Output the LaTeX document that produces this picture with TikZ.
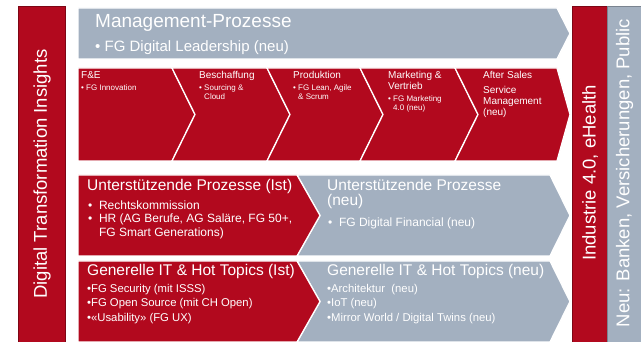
\documentclass[tikz,border=0pt]{standalone}
\usepackage{fontspec}
\setmainfont{Liberation Sans}
\definecolor{fgred}{RGB}{178,9,30}
\definecolor{fggray}{RGB}{163,176,192}

\begin{document}
\begin{tikzpicture}[x=1pt,y=-1pt,
  redshape/.style={fill=fgred,draw=white,line width=1.3pt,line join=miter},
  grayshape/.style={fill=fggray,draw=white,line width=1.3pt,line join=miter},
  redbar/.style={fill=fgred,draw=fgred!70!black,line width=0.6pt},
  graybar/.style={fill=fggray,draw=fggray!75!black,line width=0.6pt},
  lbl/.style={anchor=north west,inner sep=0pt,text=white,align=left},
  barlbl/.style={inner sep=0pt,text=white,rotate=90,font=\fontsize{18.5}{20}\selectfont},
  bigfont/.style={font=\fontsize{15.5}{15}\selectfont},
  stepfont/.style={font=\fontsize{10}{10.8}\selectfont},
  tinyfont/.style={font=\fontsize{8}{9}\selectfont}]
\useasboundingbox (0,0) rectangle (641,342);

% Side bars
\fill[white] (0,0) rectangle (641,342);
\draw[redbar] (18,6) rectangle (65,342);
\draw[redbar] (572,6) rectangle (607,342);
\draw[graybar] (607,6) rectangle (641,342);

% Management arrow
\draw[grayshape] (78,8) -- (557,8) -- (570,33.5) -- (557,59) -- (78,59) -- cycle;

% Value chain
\draw[redshape] (78,68) -- (172,68) -- (195,114.5) -- (172,161) -- (78,161) -- cycle;
\draw[redshape] (172,68) -- (267,68) -- (290,114.5) -- (267,161) -- (172,161) -- (195,114.5) -- cycle;
\draw[redshape] (267,68) -- (360,68) -- (383,114.5) -- (360,161) -- (267,161) -- (290,114.5) -- cycle;
\draw[redshape] (360,68) -- (455,68) -- (478,114.5) -- (455,161) -- (360,161) -- (383,114.5) -- cycle;
\draw[redshape] (455,68) -- (557,68) -- (570,114.5) -- (557,161) -- (455,161) -- (478,114.5) -- cycle;

% Support and IT rows
\draw[grayshape] (297,175) -- (550,175) -- (570,215.5) -- (550,256) -- (297,256) -- (320,215.5) -- cycle;
\draw[redshape] (78,175) -- (297,175) -- (320,215.5) -- (297,256) -- (78,256) -- cycle;
\draw[grayshape] (297,261) -- (550,261) -- (570,301.5) -- (550,342) -- (297,342) -- (320,301.5) -- cycle;
\draw[redshape] (78,261) -- (297,261) -- (320,301.5) -- (297,342) -- (78,342) -- cycle;

% Bar labels
\node[barlbl] (dti) at (42,174) {Digital Transformation Insights};
\node[barlbl] (industrie) at (590,173) {Industrie 4.0, eHealth};
\node[barlbl] (neu) at (624.5,173) {Neu: Banken, Versicherungen, Public};

% Management labels
\node[lbl,font=\fontsize{19}{20}\selectfont] (mgmt) at (95,14) {Management-Prozesse};
\node[lbl,font=\fontsize{15}{16}\selectfont] (mgmtitem) at (95,40.5) {• FG Digital Leadership (neu)};

% Value chain labels
\node[lbl,stepfont] (fe) at (81,71) {F\&E};
\node[lbl,tinyfont] (feitem) at (81,85) {• FG Innovation};
\node[lbl,stepfont] (besch) at (199,71) {Beschaffung};
\node[lbl,tinyfont] (beschitem) at (199,85) {• Sourcing \&\\\hphantom{• }Cloud};
\node[lbl,stepfont] (prod) at (293,71) {Produktion};
\node[lbl,tinyfont] (proditem) at (293,85) {• FG Lean, Agile\\\hphantom{• }\& Scrum};
\node[lbl,stepfont] (mkt) at (388,71) {Marketing \&\\Vertrieb};
\node[lbl,tinyfont] (mktitem) at (388,96) {• FG Marketing\\\hphantom{• }4.0 (neu)};
\node[lbl,stepfont] (aftersales) at (483,71) {After Sales};
\node[lbl,font=\fontsize{10}{11}\selectfont] (service) at (483,86) {Service\\Management\\(neu)};

% Support labels
\node[lbl,bigfont] (ustist) at (87,179) {Unterstützende Prozesse (Ist)};
\node[lbl,font=\fontsize{12}{13.5}\selectfont] (ustistitem) at (88,200.5)
  {•\ \ Rechtskommission\\•\ \ HR (AG Berufe, AG Saläre, FG 50+,\\\hphantom{•\ \ }FG Smart Generations)};
\node[lbl,bigfont] (ustneu) at (327,179) {Unterstützende Prozesse\\(neu)};
\node[lbl,font=\fontsize{12}{13.5}\selectfont] (ustneuitem) at (328,217.5) {•\ \ FG Digital Financial (neu)};

% IT labels
\node[lbl,bigfont] (itist) at (87,264.5) {Generelle IT \& Hot Topics (Ist)};
\node[lbl,font=\fontsize{11.3}{14.5}\selectfont] (itistitem) at (87,284)
  {•FG Security (mit ISSS)\\•FG Open Source (mit CH Open)\\•«Usability» (FG UX)};
\node[lbl,bigfont] (itneu) at (327,264.5) {Generelle IT \& Hot Topics (neu)};
\node[lbl,font=\fontsize{11.3}{14.5}\selectfont] (itneuitem) at (327,284)
  {•Architektur\ \ (neu)\\•IoT (neu)\\•Mirror World / Digital Twins (neu)};

\end{tikzpicture}
\end{document}
